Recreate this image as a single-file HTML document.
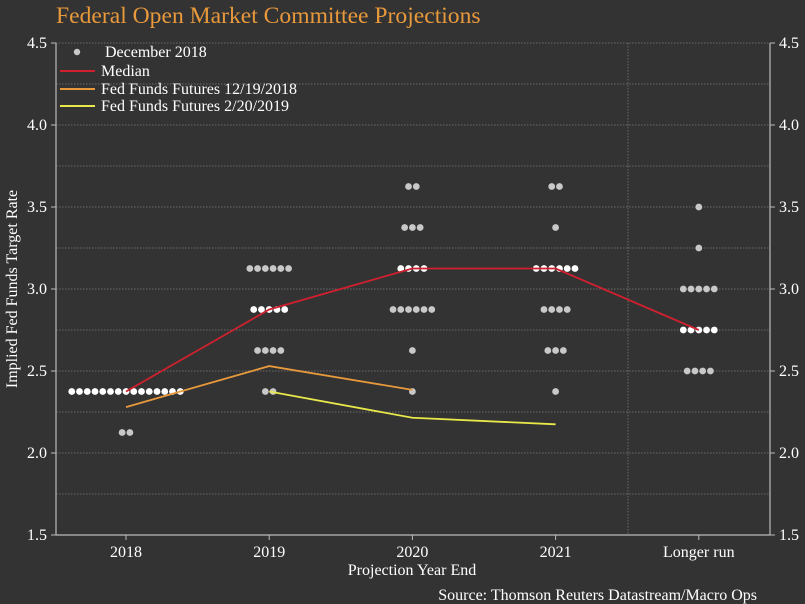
<!DOCTYPE html>
<html><head><meta charset="utf-8"><style>
html,body{margin:0;padding:0;background:#333333;}
svg{display:block;font-family:"Liberation Serif",serif;}
</style></head><body>
<svg id="chart" width="805" height="604" viewBox="0 0 805 604">
<rect x="0" y="0" width="805" height="604" fill="#333333"/>
<text x="56" y="23" fill="#e8993c" font-size="23.6">Federal Open Market Committee Projections</text>
<g id="grid"></g>
<g id="axes"></g>
<g id="dots"></g>
<g id="lines"></g>
<g id="legend">
<circle cx="77" cy="52" r="3.2" fill="#c8c8c8"/>
<text x="105" y="57" fill="#fff" font-size="16">December 2018</text>
<line x1="60" y1="71" x2="95" y2="71" stroke="#d0202f" stroke-width="2"/>
<text x="101" y="76" fill="#fff" font-size="16">Median</text>
<line x1="60" y1="89" x2="95" y2="89" stroke="#e8993c" stroke-width="2"/>
<text x="101" y="94" fill="#fff" font-size="16">Fed Funds Futures 12/19/2018</text>
<line x1="60" y1="106" x2="95" y2="106" stroke="#e8e84a" stroke-width="2"/>
<text x="101" y="111" fill="#fff" font-size="16">Fed Funds Futures 2/20/2019</text>
</g>
<text x="412" y="575" fill="#fff" font-size="16" text-anchor="middle">Projection Year End</text>
<text transform="translate(17,289) rotate(-90)" fill="#fff" font-size="16" text-anchor="middle">Implied Fed Funds Target Rate</text>
<text x="757" y="600" fill="#fff" font-size="16" text-anchor="end">Source: Thomson Reuters Datastream/Macro Ops</text>
</svg>
<script>
const categories = ["2018","2019","2020","2021","Longer run"];
const yTicks = [1.5,2.0,2.5,3.0,3.5,4.0,4.5];
const yTickLabels = ["1.5","2.0","2.5","3.0","3.5","4.0","4.5"];
const gridValues = [1.75,2.0,2.25,2.5,2.75,3.0,3.25,3.5,3.75,4.0,4.25,4.5];
// dot plot: [categoryIndex, rate, count]
const dotRates = [
 [0,2.375,15],[0,2.125,2],
 [1,3.125,6],[1,2.875,5],[1,2.625,4],[1,2.375,2],
 [2,3.625,2],[2,3.375,3],[2,3.125,4],[2,2.875,6],[2,2.625,1],[2,2.375,1],
 [3,3.625,2],[3,3.375,1],[3,3.125,6],[3,2.875,4],[3,2.625,3],[3,2.375,1],
 [4,3.5,1],[4,3.25,1],[4,3.0,5],[4,2.75,5],[4,2.5,4]
];
const medianValues = [2.375,2.875,3.125,3.125,2.75];
const futuresDec = [2.28,2.53,2.385];
const futuresDecCats = [0,1,2];
const futuresFeb = [2.375,2.215,2.175];
const futuresFebCats = [1,2,3];

const NS="http://www.w3.org/2000/svg";
const L=56,R=770,T=43,B=535;
function y(v){return B-(v-1.5)/3*(B-T);}
function x(i){return 126+i*143.2;}
function mk(tag,attrs,parent){const e=document.createElementNS(NS,tag);for(const k in attrs)e.setAttribute(k,attrs[k]);parent.appendChild(e);return e;}
const grid=document.getElementById('grid'),axes=document.getElementById('axes'),dots=document.getElementById('dots'),lines=document.getElementById('lines');
gridValues.forEach(v=>{
 const g=mk('line',{x1:L,x2:R,y1:y(v),y2:y(v),stroke:'#6a6a6a','stroke-width':1,'stroke-dasharray':'1.5,1.5'},grid);
 
 
});
const vg=mk('line',{x1:628,x2:628,y1:T,y2:B,stroke:'#6a6a6a','stroke-width':1,'stroke-dasharray':'1.5,1.5'},grid);


[[L,L],[R,R]].forEach((p,k)=>{
 const a=mk('line',{x1:p[0],x2:p[1],y1:T,y2:B,stroke:'#bbbbbb','stroke-width':1.2},axes);
 
 
});
const xa=mk('line',{x1:L,x2:R,y1:B,y2:B,stroke:'#bbbbbb','stroke-width':1.2},axes);


yTicks.forEach((v,i)=>{
 mk('line',{x1:L-5,x2:L,y1:y(v),y2:y(v),stroke:'#bbbbbb'},axes);
 mk('line',{x1:R,x2:R+5,y1:y(v),y2:y(v),stroke:'#bbbbbb'},axes);
 const t=mk('text',{x:L-9,y:y(v)+5,fill:'#fff','font-size':16,'text-anchor':'end'},axes);
 t.textContent=yTickLabels[i];
 
 
 const t2=mk('text',{x:R+9,y:y(v)+5,fill:'#fff','font-size':16},axes);
 t2.textContent=yTickLabels[i];
 
 
});
categories.forEach((c,i)=>{
 mk('line',{x1:x(i),x2:x(i),y1:B,y2:B+5,stroke:'#bbbbbb'},axes);
 const t=mk('text',{x:x(i),y:B+22,fill:'#fff','font-size':16,'text-anchor':'middle'},axes);
 t.textContent=c;
 
 
});
dotRates.forEach(d=>{
 const [ci,rate,n]=d;const sp=7.75;
 const isMed=Math.abs(medianValues[ci]-rate)<1e-6;
 for(let k=0;k<n;k++){
  const cx=x(ci)+(k-(n-1)/2)*sp;
  const c=mk('circle',{cx:cx,cy:y(rate),r:3.4,fill:isMed?'#ffffff':'#c8c8c8'},dots);
  
  
 }
});
function poly(vals,cats,color,name){
 const p=mk('polyline',{points:vals.map((v,i)=>x(cats[i])+','+y(v)).join(' '),fill:'none',stroke:color,'stroke-width':1.8},lines);
 
 
}
poly(futuresDec,futuresDecCats,'#e8993c','futures-dec-2018-line');
poly(futuresFeb,futuresFebCats,'#e8e84a','futures-feb-2019-line');
poly(medianValues,[0,1,2,3,4],'#d0202f','median-line');
</script>
</body></html>
